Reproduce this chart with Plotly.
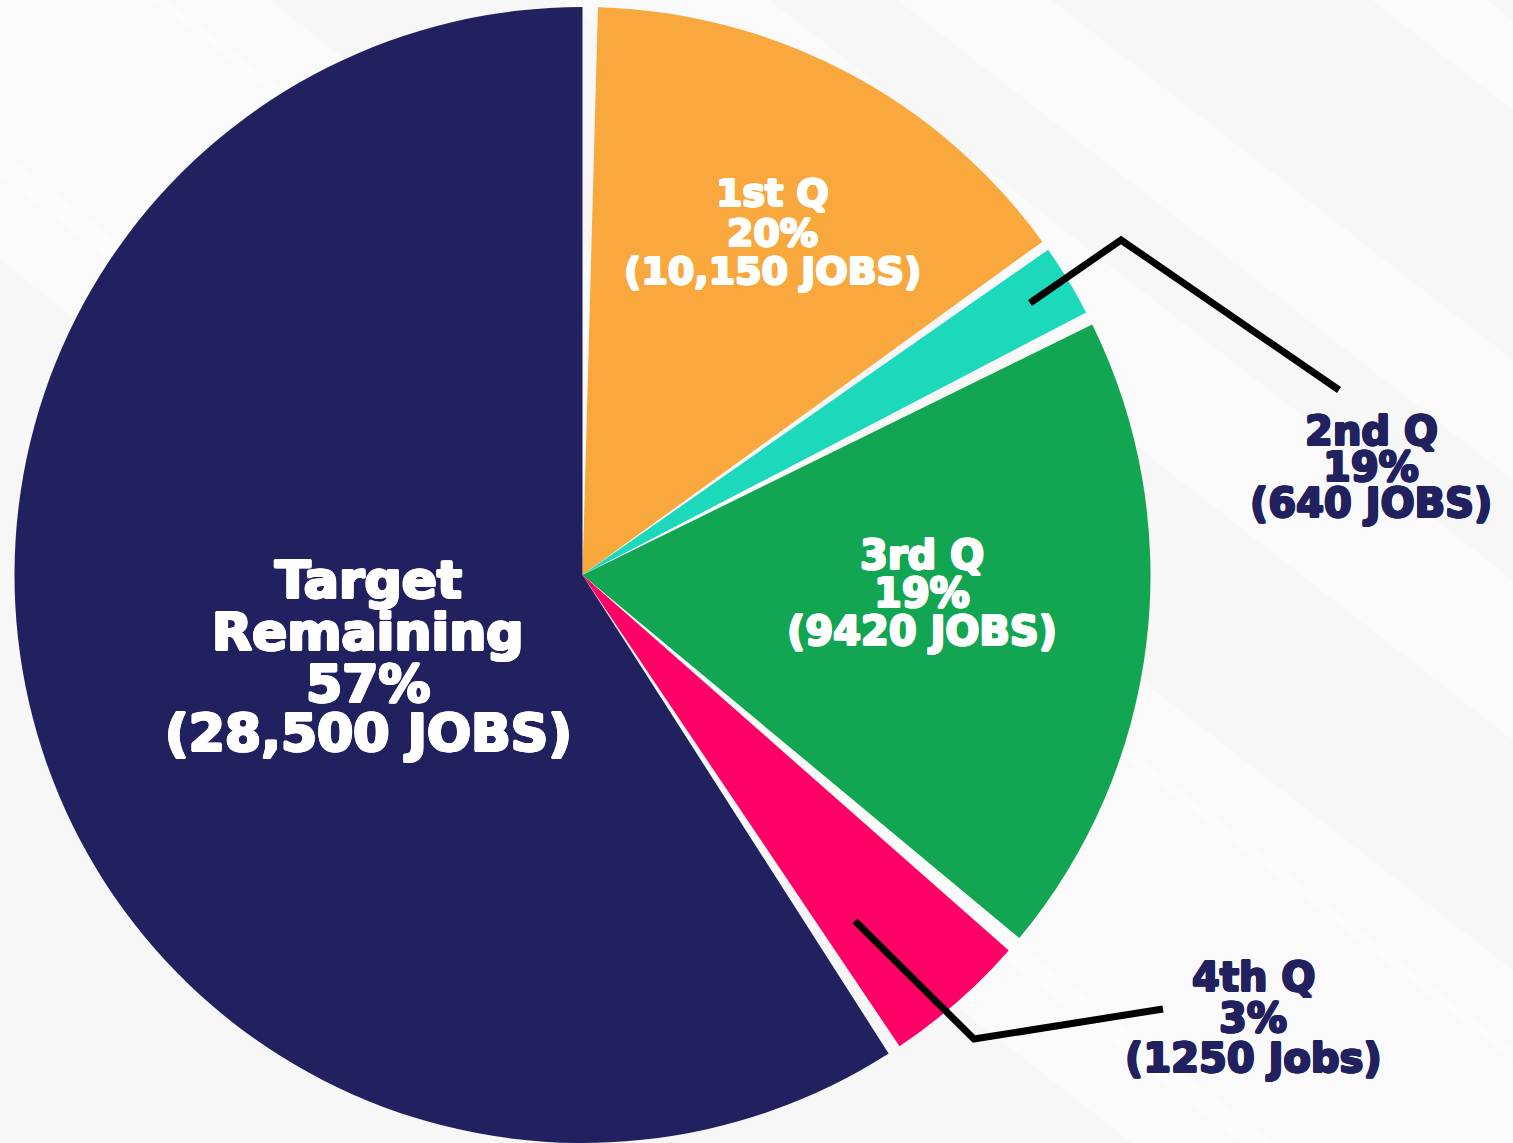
import plotly.graph_objects as go

# ---- data ----
categories = ["1st Q", "2nd Q", "3rd Q", "4th Q", "Target Remaining"]
# share of the circle each slice occupies in the drawing (degrees)
drawn_share = [52.5, 7.4, 65.9, 14.7, 212.6]
jobs = [10150, 640, 9420, 1250, 28500]
name_lines = [["1st Q"], ["2nd Q"], ["3rd Q"], ["4th Q"], ["Target", "Remaining"]]
pct_labels = ["20%", "19%", "19%", "3%", "57%"]
jobs_labels = ["(10,150 JOBS)", "(640 JOBS)", "(9420 JOBS)", "(1250 Jobs)", "(28,500 JOBS)"]

# ---- styles ----
colors = ["#F9A83D", "#1DD9BB", "#13A652", "#FF0066", "#222160"]
label_colors = ["#FFFFFF", "#222160", "#FFFFFF", "#222160", "#FFFFFF"]
label_sizes = [38, 40, 40, 40, 52]
FONT = "DejaVu Sans"
# thin wedge-shaped white separators before each slice (degrees)
separator = [1.56, 1.0, 1.36, 1.64, 1.32]

W, H = 1513, 1143
BG = "#F7F7F7"

values, labels, slice_colors = [], [], []
for i, cat in enumerate(categories):
    values += [separator[i], drawn_share[i]]
    labels += ["sep%d" % i, cat]
    slice_colors += ["rgba(0,0,0,0)", colors[i]]

cx, cy, r = 582.5, 575.0, 568.0

fig = go.Figure(go.Pie(
    labels=labels,
    values=values,
    sort=False,
    direction="clockwise",
    rotation=0,
    marker=dict(colors=slice_colors, line=dict(width=0)),
    textinfo="none",
    hoverinfo="skip",
    showlegend=False,
    domain=dict(x=[(cx - r) / W, (cx + r) / W], y=[(H - cy - r) / H, (H - cy + r) / H]),
))

def px(x, y):
    return x / W, 1 - y / H

def heavy(color, d=1.2):
    # emulate an extra-bold weight by outlining glyphs in their own colour
    offs = [(d, 0), (-d, 0), (0, d), (0, -d), (d * 0.7, d * 0.7), (-d * 0.7, -d * 0.7),
            (d * 0.7, -d * 0.7), (-d * 0.7, d * 0.7)]
    return ", ".join("%.1fpx %.1fpx 0 %s" % (a, b, color) for a, b in offs)

# label layout: (center x, [line centers y]) in pixels
label_pos = [
    (772, [193, 233, 271]),
    (1371, [431, 467, 503]),
    (922, [555, 593, 631]),
    (1253, [977, 1018, 1058]),
    (368, [580, 632, 684, 733]),
]
annotations = []
for i in range(len(categories)):
    lines = name_lines[i] + [pct_labels[i], jobs_labels[i]]
    x0, ys = label_pos[i]
    for line, yy in zip(lines, ys):
        ax, ay = px(x0, yy)
        annotations.append(dict(
            x=ax, y=ay, xref="paper", yref="paper", text="<b>%s</b>" % line, showarrow=False,
            xanchor="center", yanchor="middle",
            font=dict(family=FONT, size=label_sizes[i], color=label_colors[i],
                      shadow=heavy(label_colors[i], 1.4 if i == 4 else 1.1)),
        ))

shapes = []
# soft diagonal light bands in the background
slope = 0.78
for c1, c2 in [(-130, 175), (-1160, -1070), (-820, -700), (-600, -440), (-210, -120), (150, 260)]:
    pts = [(0, c1), (W, c1 + slope * W), (W, c2 + slope * W), (0, c2)]
    path = "M " + " L ".join("%f,%f" % px(x, y) for x, y in pts) + " Z"
    shapes.append(dict(type="path", path=path, xref="paper", yref="paper",
                       fillcolor="rgba(255,255,255,0.4)", line=dict(width=0), layer="below"))

# leader lines for the outside labels
for pts in [[(1030, 303), (1121, 240), (1339, 390)], [(855, 921), (974, 1039), (1163, 1009)]]:
    path = "M " + " L ".join("%f,%f" % px(x, y) for x, y in pts)
    shapes.append(dict(type="path", path=path, xref="paper", yref="paper",
                       line=dict(color="black", width=7), layer="above"))

fig.update_layout(
    width=W, height=H,
    margin=dict(l=0, r=0, t=0, b=0),
    paper_bgcolor=BG, plot_bgcolor=BG,
    annotations=annotations, shapes=shapes,
)

fig.write_html("out.html", config={"displayModeBar": False},
               post_script="document.body.style.margin='0';")
